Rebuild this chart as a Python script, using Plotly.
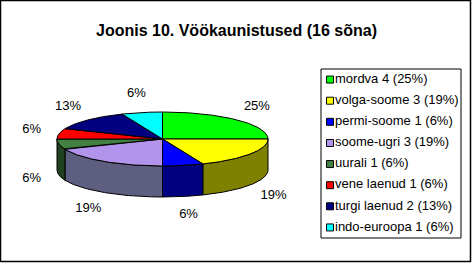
import math
import numpy as np
import plotly.graph_objects as go

# ---- data ----
categories = ["mordva", "volga-soome", "permi-soome", "soome-ugri",
              "uurali", "vene laenud", "turgi laenud", "indo-euroopa"]
counts = [4, 3, 1, 3, 1, 1, 2, 1]
title_text = "Joonis 10. Vöökaunistused (16 sõna)"

top_colors = ["#00FF00", "#FFFF00", "#0000FF", "#B294EC",
              "#408040", "#FF0000", "#000080", "#00FFFF"]
side_colors = ["#008000", "#808000", "#000080", "#5E5E80",
               "#204020", "#800000", "#000040", "#008080"]

# ---- geometry (pixel space) ----
W, H = 473, 265
cx, cy, rx, ry, depth = 162.5, 139.0, 105.5, 27.0, 31.0

total = sum(counts)
pcts = [c / total * 100 for c in counts]


def rnd(p):
    return int(math.floor(p + 0.5))


pct_labels = [f"{rnd(p)}%" for p in pcts]
legend_labels = [f"{n} {c} ({rnd(p)}%)" for n, c, p in zip(categories, counts, pcts)]

bounds = np.concatenate([[0], np.cumsum(counts)]) / total * 360.0


def pt(theta_deg, dy=0.0):
    t = np.radians(theta_deg)
    return cx + rx * np.sin(t), cy - ry * np.cos(t) + dy


fig = go.Figure()

# sides (front half only: 90..270 deg)
for i in range(len(counts)):
    a0, a1 = max(bounds[i], 90), min(bounds[i + 1], 270)
    if a1 <= a0:
        continue
    th = np.linspace(a0, a1, 80)
    xt, yt = pt(th)
    xb, yb = pt(th[::-1], depth)
    xs = np.concatenate([xt, xb, xt[:1]])
    ys = np.concatenate([yt, yb, yt[:1]])
    fig.add_trace(go.Scatter(x=xs, y=ys, mode="lines", fill="toself",
                             fillcolor=side_colors[i],
                             line=dict(color="black", width=1),
                             hoverinfo="skip", showlegend=False))

# tops
for i in range(len(counts)):
    th = np.linspace(bounds[i], bounds[i + 1], 120)
    xa, ya = pt(th)
    xs = np.concatenate([[cx], xa, [cx]])
    ys = np.concatenate([[cy], ya, [cy]])
    fig.add_trace(go.Scatter(x=xs, y=ys, mode="lines", fill="toself",
                             fillcolor=top_colors[i],
                             line=dict(color="black", width=1),
                             hoverinfo="skip", showlegend=False))

# percent labels
mids = (bounds[:-1] + bounds[1:]) / 2
lx, ly = [], []
for m in mids:
    t = np.radians(m)
    x = cx + (rx + 28) * np.sin(t)
    y = cy - (ry + 19) * np.cos(t) + (depth if np.cos(t) < 0 else 0)
    lx.append(x)
    ly.append(y)
fig.add_trace(go.Scatter(x=lx, y=ly, mode="text", text=pct_labels,
                         textfont=dict(family="Liberation Sans, Arial", size=13, color="black"),
                         hoverinfo="skip", showlegend=False))

# legend
leg_x0, leg_y0, leg_x1, leg_y1 = 321, 69, 461, 238
n = len(categories)
step = (leg_y1 - leg_y0) / n
leg_y = [leg_y0 + step * (i + 0.5) for i in range(n)]
fig.add_trace(go.Scatter(x=[330] * n, y=leg_y, mode="markers",
                         marker=dict(symbol="square", size=7, color=top_colors,
                                     line=dict(color="black", width=1)),
                         hoverinfo="skip", showlegend=False))
fig.add_trace(go.Scatter(x=[335] * n, y=leg_y, mode="text", text=legend_labels,
                         textposition="middle right",
                         textfont=dict(family="Liberation Sans, Arial", size=13, color="black"),
                         hoverinfo="skip", showlegend=False))

fig.add_shape(type="rect", x0=leg_x0, y0=leg_y0, x1=leg_x1, y1=leg_y1,
              line=dict(color="black", width=1), layer="below")
fig.add_shape(type="rect", x0=0.5, y0=0.5, x1=470.5, y1=261.5,
              line=dict(color="black", width=1.5), layer="below")

fig.add_annotation(x=236, y=30, text=f"<b>{title_text}</b>", showarrow=False,
                   font=dict(family="Liberation Sans, Arial", size=16, color="black"))

fig.update_layout(width=W, height=H, margin=dict(l=0, r=0, t=0, b=0),
                  paper_bgcolor="white", plot_bgcolor="white",
                  xaxis=dict(range=[0, W], visible=False, fixedrange=True),
                  yaxis=dict(range=[H, 0], visible=False, fixedrange=True),
                  showlegend=False)

fig.write_html("out.html")
